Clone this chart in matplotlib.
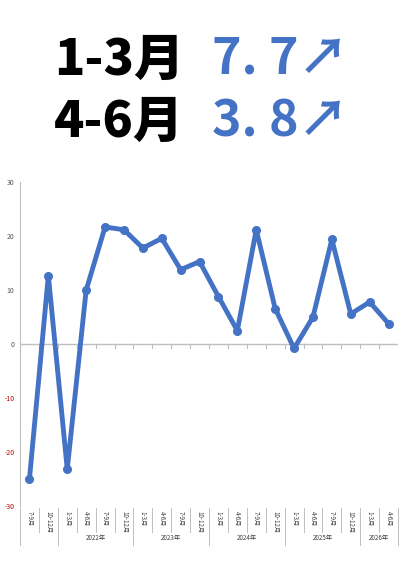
import matplotlib
matplotlib.use("Agg")
import matplotlib.pyplot as plt
from matplotlib.transforms import blended_transform_factory as btf

plt.rcParams['font.family'] = ['Noto Sans CJK JP', 'DejaVu Sans']
quarters = ["7-9月","10-12月","1-3月","4-6月","7-9月","10-12月","1-3月","4-6月","7-9月","10-12月",
            "1-3月","4-6月","7-9月","10-12月","1-3月","4-6月","7-9月","10-12月","1-3月","4-6月"]
years = ["", "2022年", "2023年", "2024年", "2025年", "2026年"]
year_sizes = [2, 4, 4, 4, 4, 2]
values = [-25, 12.7, -23.2, 10, 21.7, 21.2, 17.8, 19.6, 13.8, 15.3,
          8.8, 2.5, 21.2, 6.6, -0.8, 5, 19.4, 5.6, 7.8, 3.8]
blue = "#4472C4"

fig = plt.figure(figsize=(4, 5.66), dpi=100)
ax = fig.add_axes([0.05, 0.106, 0.945, 0.572])
n = len(values)
x = list(range(n))
ax.plot(x, values, color=blue, lw=3.5, marker='o', ms=5.5, solid_capstyle='round', zorder=3)
ax.set_xlim(-0.5, n - 0.5)
ax.set_ylim(-30, 30)
ax.set_yticks([-30, -20, -10, 0, 10, 20, 30])
ax.set_yticklabels(["-30", "-20", "-10", "0", "10", "20", "30"], fontsize=5, color="#595959")
for t in ax.get_yticklabels():
    if t.get_text().startswith("-"):
        t.set_color("#C00000")
ax.tick_params(axis='y', length=0, pad=4)
ax.set_xticks([])
for s in ["top", "right", "bottom"]:
    ax.spines[s].set_visible(False)
ax.spines["left"].set_color("#BFBFBF")
ax.axhline(0, color="#BFBFBF", lw=1, zorder=1)
for i in range(n + 1):
    ax.plot([i - 0.5, i - 0.5], [0, -0.8], color="#BFBFBF", lw=0.8, zorder=1)

tr = btf(ax.transData, ax.transAxes)
for i, q in enumerate(quarters):
    ax.text(i, -0.015, q, rotation=270, ha='center', va='top', fontsize=4.5, color="#404040",
            transform=tr, clip_on=False)
for i in range(n + 1):
    ax.plot([i - 0.5, i - 0.5], [-0.005, -0.08], color="#BFBFBF", lw=0.7, transform=tr, clip_on=False)
pos = 0
for y, s in zip(years, year_sizes):
    ax.plot([pos - 0.5, pos - 0.5], [-0.08, -0.12], color="#BFBFBF", lw=0.7, transform=tr, clip_on=False)
    if y:
        ax.text(pos + s / 2 - 0.5, -0.1, y, ha='center', va='center', fontsize=4.5, color="#404040",
                transform=tr, clip_on=False)
    pos += s
ax.plot([n - 0.5, n - 0.5], [-0.08, -0.12], color="#BFBFBF", lw=0.7, transform=tr, clip_on=False)

fig.text(0.135, 0.895, "1-3月", fontsize=36, fontweight='heavy', color='black', va='center')
fig.text(0.53, 0.895, "7. 7↗", fontsize=36, fontweight='bold', color=blue, va='center')
fig.text(0.135, 0.785, "4-6月", fontsize=36, fontweight='heavy', color='black', va='center')
fig.text(0.53, 0.785, "3. 8↗", fontsize=36, fontweight='bold', color=blue, va='center')

fig.savefig("out.png", dpi=100)
